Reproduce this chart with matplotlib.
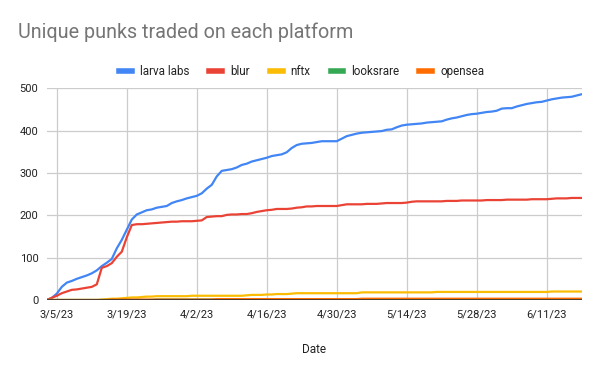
import numpy as np
import pandas as pd
import matplotlib
matplotlib.use("Agg")
import matplotlib.pyplot as plt
from matplotlib.lines import Line2D

# datos diarios 3/3/23 - 6/18/23
fechas = pd.date_range("2023-03-03", "2023-06-18", freq="D")

larva_labs = [0, 5, 15, 31, 41, 45, 50, 54, 58, 63, 70, 80, 88, 97, 122, 142, 166, 190, 202, 207,
              212, 214, 218, 220, 222, 229, 233, 236, 240,
              243, 246, 252, 263, 272, 292, 305, 307, 309, 313, 319, 322, 327, 330, 333, 336, 340,
              342, 344, 349, 359, 366, 369, 370, 371, 373, 375, 375, 375, 375,
              381, 387, 390, 393, 395, 396, 397, 398, 399, 402, 403, 408, 412, 414, 415, 416, 417,
              419, 420, 421, 422, 426, 429, 431, 434, 437, 439, 440, 442, 444, 445,
              447, 452, 453, 453, 457, 460, 463, 465, 467, 468, 471, 474, 476, 478, 479, 480, 483, 486]
blur = [0, 5, 10, 16, 20, 24, 25, 27, 29, 31, 37, 76, 80, 87, 102, 114, 148, 177, 179, 179,
        180, 181, 182, 183, 184, 185, 185, 186, 186,
        186, 187, 188, 196, 197, 198, 198, 201, 202, 202, 203, 203, 205, 208, 210, 212, 213,
        215, 215, 215, 216, 218, 219, 221, 221, 222, 222, 222, 222, 222,
        224, 226, 226, 226, 226, 227, 227, 227, 228, 229, 229, 229, 229, 230, 232, 233, 233,
        233, 233, 233, 233, 234, 234, 234, 235, 235, 235, 235, 235, 236, 236,
        236, 236, 237, 237, 237, 237, 237, 238, 238, 238, 238, 239, 240, 240, 240, 241, 241, 241]
nftx = [0, 0, 0, 0, 0, 0, 0, 0, 0, 0, 0, 1, 2, 3, 3, 4, 5, 6, 6, 7,
        8, 8, 9, 9, 9, 9, 9, 9, 9,
        10, 10, 10, 10, 10, 10, 10, 10, 10, 10, 10, 11, 12, 12, 12, 13, 13,
        14, 14, 14, 15, 16, 16, 16, 16, 16, 16, 16, 16, 16,
        16, 16, 16, 16, 18, 18, 18, 18, 18, 18, 18, 18, 18, 18, 18, 18, 18,
        18, 18, 19, 19, 19, 19, 19, 19, 19, 19, 19, 19, 19, 19,
        19, 19, 19, 19, 19, 19, 19, 19, 19, 19, 19, 20, 20, 20, 20, 20, 20, 20]
looksrare = [0, 0, 0, 0, 0, 0, 0, 0, 0, 0, 0, 0, 0, 0, 0, 0, 0, 0, 0, 0,
             0, 0, 1, 1, 1, 1, 1, 1, 1,
             1, 1, 1, 1, 1, 1, 1, 1, 1, 1, 1, 1, 1, 1, 1, 1, 1,
             1, 1, 1, 1, 1, 1, 1, 1, 1, 1, 1, 1, 1,
             1, 1, 1, 1, 1, 1, 1, 1, 1, 1, 1, 1, 1, 1, 1, 1, 1,
             1, 1, 1, 1, 1, 1, 1, 1, 1, 1, 1, 1, 1, 1,
             1, 1, 1, 1, 1, 1, 1, 1, 1, 1, 1, 1, 1, 1, 1, 1, 1, 1]
opensea = [0, 0, 0, 0, 0, 0, 0, 0, 0, 0, 0, 0, 0, 1, 1, 1, 1, 1, 1, 1,
           1, 1, 1, 1, 1, 1, 1, 1, 1,
           1, 1, 1, 1, 1, 2, 2, 2, 2, 2, 2, 2, 2, 2, 2, 2, 2,
           2, 2, 2, 2, 2, 2, 2, 2, 2, 2, 2, 2, 2,
           2, 2, 2, 2, 3, 3, 3, 3, 3, 3, 3, 3, 3, 3, 3, 3, 3,
           3, 3, 3, 3, 3, 3, 3, 3, 3, 3, 3, 3, 3, 3,
           3, 3, 3, 3, 3, 3, 3, 3, 3, 3, 3, 3, 3, 3, 3, 3, 3, 3]

series = ["larva labs", "blur", "nftx", "looksrare", "opensea"]
colores = ["#4285F4", "#EA4335", "#FBBC04", "#34A853", "#FF6D01"]
valores = [larva_labs, blur, nftx, looksrare, opensea]

plt.rcParams["font.family"] = ["Roboto", "DejaVu Sans"]

fig = plt.figure(figsize=(6, 3.71), dpi=100)
ax = fig.add_axes([0.078, 0.1914, 0.8915, 0.5706])

for nombre, col, vals in zip(series, colores, valores):
    ax.plot(fechas, vals, color=col, lw=1.6, label=nombre, zorder=3,
            solid_capstyle="round", solid_joinstyle="round")

# línea base oscura
ax.axhline(0, color="#333333", lw=1.2, zorder=4)

ax.set_xlim(fechas[0], fechas[-1])
ax.set_ylim(0, 500)
ax.set_yticks([0, 100, 200, 300, 400, 500])
ticks = pd.date_range("2023-03-05", "2023-06-11", freq="14D")
ax.set_xticks(ticks)
ax.set_xticklabels([f"{d.month}/{d.day}/23" for d in ticks])

ax.grid(True, color="#cccccc", lw=0.9, zorder=0)
for s in ax.spines.values():
    s.set_visible(False)
ax.tick_params(length=0, labelsize=8, colors="#222222")
ax.tick_params(axis="y", pad=6)
ax.tick_params(axis="x", pad=7)
ax.set_xlabel("Date", fontsize=8.5, color="#222222", labelpad=17)

fig.text(0.03, 0.913, "Unique punks traded on each platform", fontsize=14.2,
         color="#757575", ha="left", va="center")

handles = [Line2D([0], [0], color=c, lw=4) for c in colores]
fig.legend(handles, series, loc="center", bbox_to_anchor=(0.503, 0.807), ncol=5,
           frameon=False, fontsize=8.4, handlelength=1.1, handletextpad=0.7,
           columnspacing=1.7, labelcolor="#222222")

fig.savefig("out.png", dpi=100)
